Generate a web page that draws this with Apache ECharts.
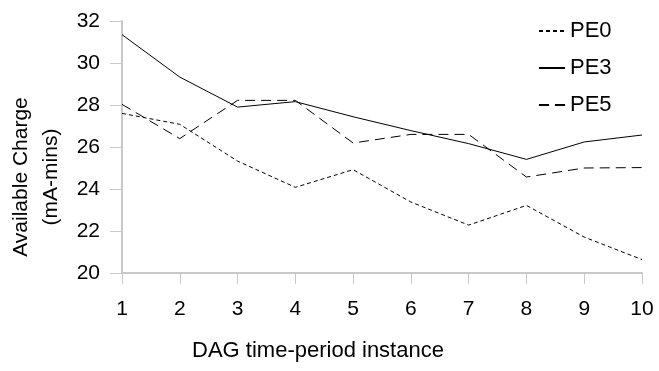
<!DOCTYPE html>
<html>
<head>
<meta charset="utf-8">
<script src="https://cdn.jsdelivr.net/npm/echarts@6/dist/echarts.min.js"></script>
<style>
html,body{margin:0;padding:0;background:#fff;}
#chart{width:659px;height:371px;}
</style>
</head>
<body>
<div id="chart"></div>
<script>
var categories = ['1','2','3','4','5','6','7','8','9','10'];
var pe0 = [27.6, 27.08, 25.33, 24.08, 24.92, 23.38, 22.28, 23.22, 21.71, 20.64];
var pe3 = [31.35, 29.33, 27.9, 28.16, 27.44, 26.78, 26.16, 25.41, 26.24, 26.57];
var pe5 = [28.03, 26.4, 28.22, 28.22, 26.19, 26.6, 26.6, 24.57, 25.0, 25.02];
var seriesNames = ['PE0', 'PE3', 'PE5'];
var yTicks = {min: 20, max: 32, interval: 2};

var font = 'Liberation Sans, Arial, sans-serif';
var chart = echarts.init(document.getElementById('chart'), null, {renderer: 'canvas'});
function mk(name, data, dash) {
  return {
    name: name, type: 'line', data: data, symbol: 'none', smooth: false,
    lineStyle: {color: '#000', width: 1, type: dash},
    itemStyle: {color: '#000'},
    animation: false
  };
}
chart.setOption({
  animation: false,
  backgroundColor: '#fff',
  grid: {left: 122, right: 17, top: 21, bottom: 98, outerBoundsMode: 'none', containLabel: false},
  legend: {
    orient: 'vertical', left: 533, top: 15,
    itemWidth: 26, itemHeight: 14, itemGap: 15,
    itemStyle: {opacity: 0},
    textStyle: {fontFamily: font, fontSize: 22, color: '#000'},
    data: seriesNames.map(function(n){ return {name: n}; })
  },
  xAxis: {
    type: 'category', data: categories, boundaryGap: false,
    name: 'DAG time-period instance', nameLocation: 'middle', nameGap: 67,
    nameTextStyle: {fontFamily: font, fontSize: 22, color: '#000', padding: [0, 128, 0, 0]},
    axisLine: {lineStyle: {color: '#c8c8c8', width: 2}},
    axisTick: {show: true, length: 11, lineStyle: {color: '#c8c8c8', width: 1}},
    axisLabel: {fontFamily: font, fontSize: 21, color: '#000', margin: 26},
    splitLine: {show: false}
  },
  yAxis: {
    type: 'value', min: yTicks.min, max: yTicks.max, interval: yTicks.interval,
    name: 'Available Charge\n(mA-mins)', nameLocation: 'middle', nameGap: 52, nameRotate: 90,
    nameTextStyle: {fontFamily: font, fontSize: 21, color: '#000', lineHeight: 30, padding: [0, 60, 0, 0]},
    axisLine: {show: true, lineStyle: {color: '#c8c8c8', width: 2}},
    axisTick: {show: true, length: 12, lineStyle: {color: '#c8c8c8', width: 1}},
    axisLabel: {fontFamily: font, fontSize: 21, color: '#000', margin: 22},
    splitLine: {show: false}
  },
  series: [
    mk(seriesNames[0], pe0, [4, 3]),
    mk(seriesNames[1], pe3, 'solid'),
    mk(seriesNames[2], pe5, [10, 6])
  ]
});
</script>
</body>
</html>
